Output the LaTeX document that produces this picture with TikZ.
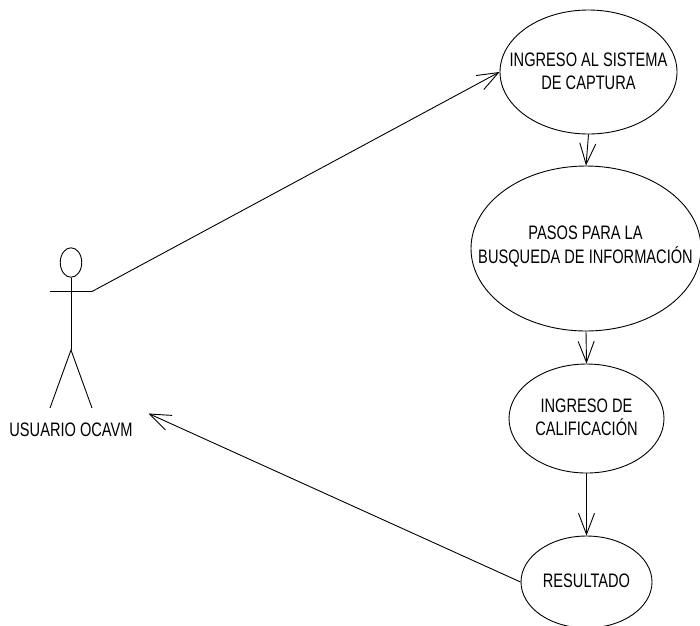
\documentclass[tikz,border=0pt]{standalone}
\usepackage{fontspec}
\setmainfont[FakeStretch=0.75]{Liberation Sans}
\usetikzlibrary{arrows.meta,shapes.geometric}
\tikzset{
  uc/.style={draw=black,line width=0.9pt,ellipse,inner sep=0pt},
  lbl/.style={align=center,inner sep=0pt,font=\fontsize{19.5}{23.5}\selectfont,text=black},
  flow/.style={draw=black,line width=0.9pt,-{Straight Barb[length=21pt,width=16pt,line width=0.9pt]}},
  stick/.style={draw=black,line width=0.9pt}
}
\begin{document}
\begin{tikzpicture}[x=1pt,y=-1pt]
\useasboundingbox (0,0) rectangle (700,625);
\begin{scope}
\clip (0,0) rectangle (700,625);
\node[uc,minimum width=177pt,minimum height=124pt] (a) at (588.5,72) {};
\node[uc,minimum width=230pt,minimum height=165pt] (b) at (586,248.5) {};
\node[uc,minimum width=155pt,minimum height=109pt] (c) at (586.5,418.5) {};
\node[uc,minimum width=131pt,minimum height=92pt] (d) at (586.5,582) {};
\end{scope}
\node[lbl] (atext) at (588.5,71.5) {INGRESO AL SISTEMA\\DE CAPTURA};
\node[lbl] (btext) at (585.5,246.5) {PASOS PARA LA\\BUSQUEDA DE INFORMACIÓN};
\node[lbl] (ctext) at (586.5,417.5) {INGRESO DE\\CALIFICACIÓN};
\node[lbl] (dtext) at (586.5,580.5) {RESULTADO};
\node[uc,minimum width=21.5pt,minimum height=29.5pt] (head) at (71,262.5) {};
\coordinate (hand) at (92,291.5);
\coordinate (handl) at (50,291.5);
\coordinate (hip) at (71,350);
\coordinate (footl) at (50,408);
\coordinate (footr) at (92,408);
\coordinate (tip) at (148.5,413.5);
\node[lbl] (user) at (71,430) {USUARIO OCAVM};
\draw[stick] (head.south) -- (hip);
\draw[stick] (handl) -- (hand);
\draw[stick] (footl) -- (hip) -- (footr);
\draw[flow] (hand) -- (a.west);
\draw[flow] (a.south) -- (b.north);
\draw[flow] (b.south) -- (c.north);
\draw[flow] (c.south) -- (d.north);
\draw[flow] (d.west) -- (tip);
\end{tikzpicture}
\end{document}
